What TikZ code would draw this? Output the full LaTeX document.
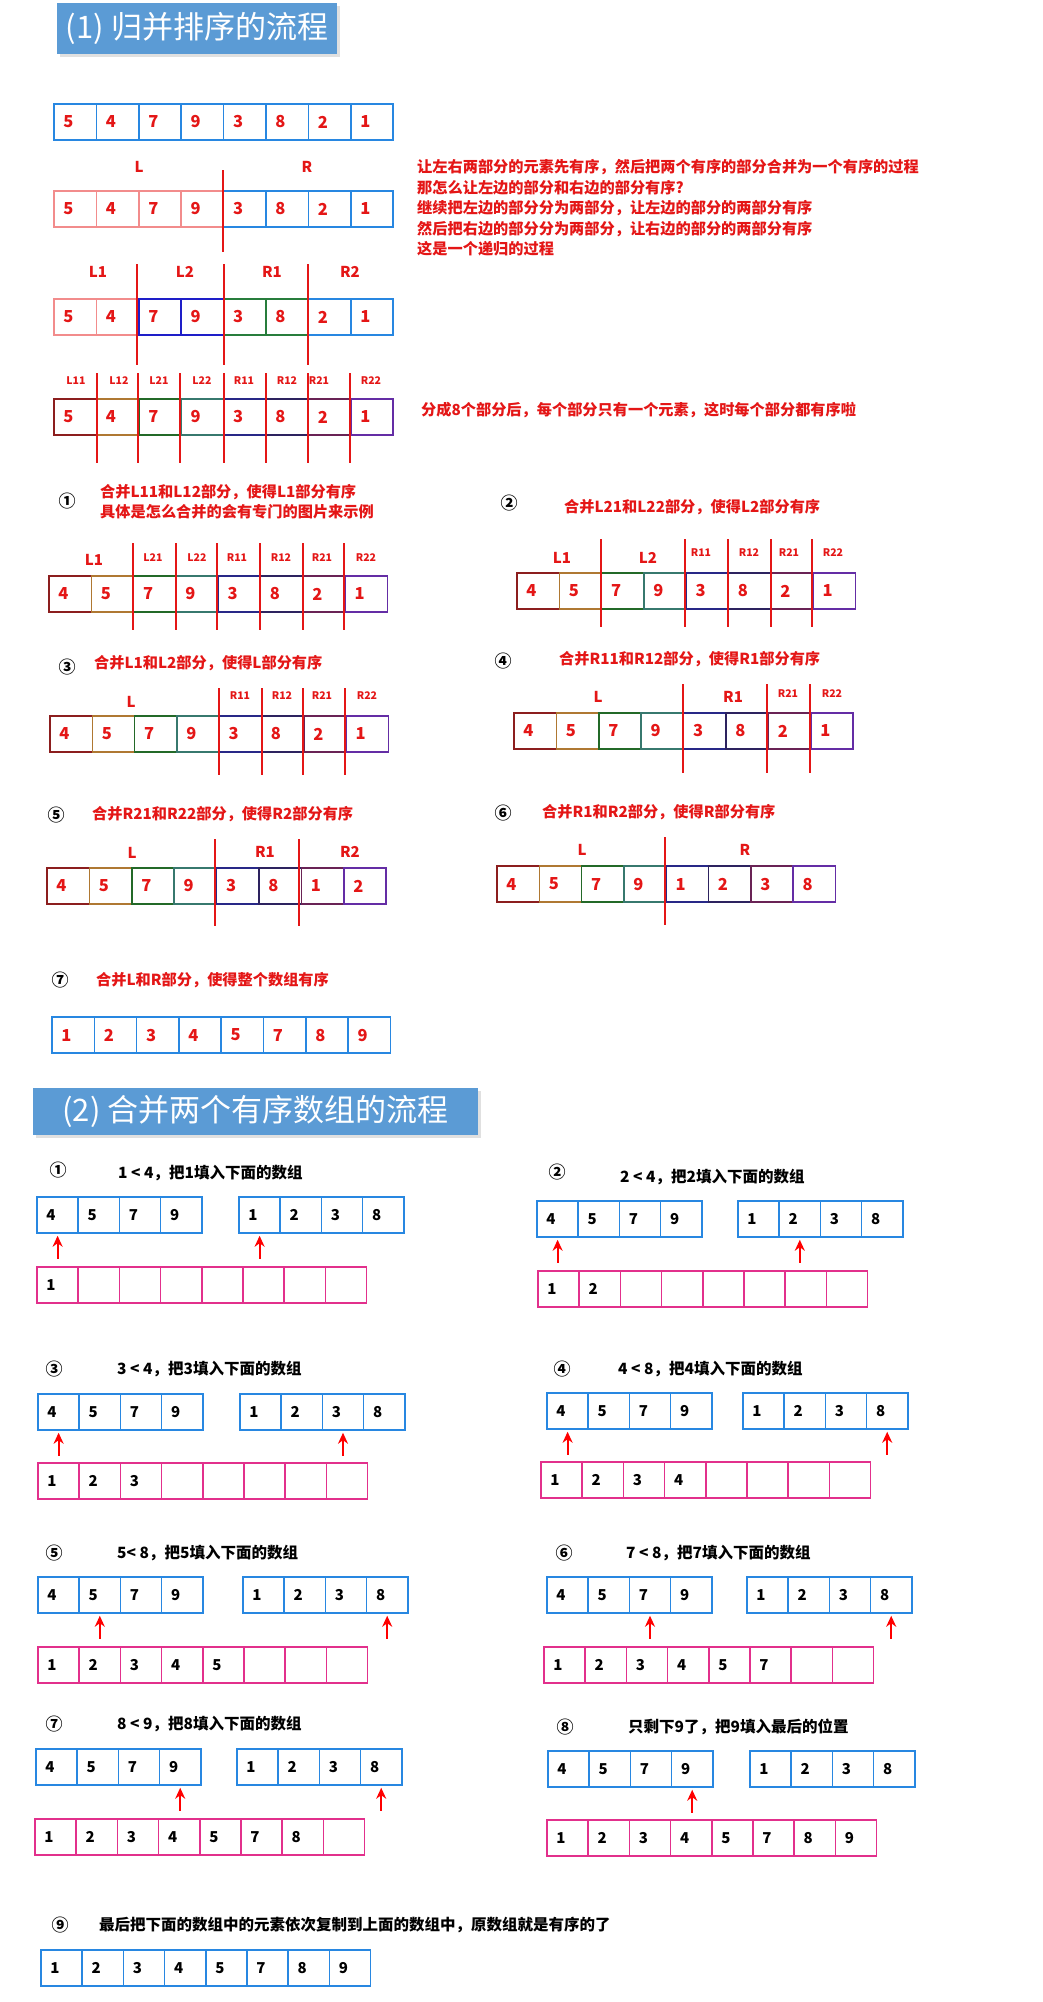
\documentclass[tikz,border=0pt]{standalone}
\usepackage{fontspec}
\setmainfont{Noto Sans CJK SC}
\usetikzlibrary{arrows.meta}
\definecolor{hdblue}{RGB}{91,155,213}
\definecolor{txred}{RGB}{228,22,22}
\definecolor{cblue}{RGB}{40,135,225}
\definecolor{cpink}{RGB}{242,140,140}
\definecolor{cnavy}{RGB}{30,30,200}
\definecolor{cgreen}{RGB}{40,125,60}
\definecolor{cmag}{RGB}{226,48,140}
\definecolor{ga}{RGB}{140,30,30}
\definecolor{gb}{RGB}{175,120,50}
\definecolor{gc}{RGB}{35,105,40}
\definecolor{gd}{RGB}{55,120,110}
\definecolor{ge}{RGB}{40,40,135}
\definecolor{gf}{RGB}{45,35,95}
\definecolor{gg}{RGB}{105,35,85}
\definecolor{gh}{RGB}{100,45,165}
\tikzset{
  cellbox/.style={draw, line width=1.5pt, minimum height=36pt, inner sep=0pt},
  rednum/.style={anchor=west, inner sep=0pt, text=txred, font=\fontsize{16.5}{18}\selectfont\bfseries},
  blacknum/.style={anchor=west, inner sep=0pt, text=black, font=\fontsize{15}{18}\selectfont\bfseries},
  heading/.style={fill=hdblue, text=white, inner sep=0pt, font=\fontsize{31}{36}\selectfont},
  note/.style={anchor=west, inner sep=0pt, text=txred, font=\fontsize{15.2}{20.5}\selectfont\bfseries},
  steptxt/.style={anchor=west, inner sep=0pt, text=black, font=\fontsize{15.5}{20}\selectfont\bfseries},
  circnum/.style={inner sep=0pt, font=\fontsize{17}{18}\selectfont\bfseries},
  partbig/.style={inner sep=0pt, text=txred, font=\fontsize{15}{18}\selectfont\bfseries},
  partsmall/.style={inner sep=0pt, text=txred, font=\fontsize{10.5}{12}\selectfont\bfseries},
  divider/.style={draw=txred, line width=1.5pt},
  ptr/.style={draw=red, line width=2pt, shorten >=2pt, -{Stealth[length=11pt,width=10pt]}},
}
\newcommand{\cellrow}[6]{%
  \foreach \v/\c [count=\i] in {#6} {
    \node[cellbox, draw=\c, minimum width=#4pt] (#1-\i) at ({#2+(\i-0.5)*#4},{#3+18}) {};
    \node[#5] (#1-\i-n) at ([xshift=10pt]#1-\i.west) {\v};
  }%
}
\begin{document}
\begin{tikzpicture}[x=1pt,y=-1pt]
\useasboundingbox (0,0) rectangle (1042,2002);
\fill[white] (0,0) rectangle (1042,2002);

\fill[black!12] (60,6) rectangle (340,57);
\node[heading, minimum width=280pt, minimum height=51pt] (head1) at (197,28.5) {(1) 归并排序的流程};

\cellrow{r0}{54}{104}{42.4}{rednum}{5/cblue,4/cblue,7/cblue,9/cblue,3/cblue,8/cblue,2/cblue,1/cblue}

\node[partbig] (r1L) at (139,167) {L};
\node[partbig] (r1R) at (307,167) {R};
\cellrow{r1}{54}{191}{42.4}{rednum}{5/cpink,4/cpink,7/cpink,9/cpink,3/cblue,8/cblue,2/cblue,1/cblue}
\draw[divider] (223,170) -- (223,252);
\node[note, align=left] (intro) at (417,208) {让左右两部分的元素先有序，然后把两个有序的部分合并为一个有序的过程\\那怎么让左边的部分和右边的部分有序?\\继续把左边的部分分为两部分，让左边的部分的两部分有序\\然后把右边的部分分为两部分，让右边的部分的两部分有序\\这是一个递归的过程};

\node[partbig] (r2L1) at (98,272) {L1};
\node[partbig] (r2L2) at (185,272) {L2};
\node[partbig] (r2R1) at (272,272) {R1};
\node[partbig] (r2R2) at (350,272) {R2};
\cellrow{r2}{54}{299}{42.4}{rednum}{5/cpink,4/cpink,7/cnavy,9/cnavy,3/cgreen,8/cgreen,2/cblue,1/cblue}
\draw[divider] (137,264) -- (137,365);
\draw[divider] (224,264) -- (224,365);
\draw[divider] (308,264) -- (308,365);

\node[partsmall] (r3a) at (76,381) {L11};
\node[partsmall] (r3b) at (119,381) {L12};
\node[partsmall] (r3c) at (159,381) {L21};
\node[partsmall] (r3d) at (202,381) {L22};
\node[partsmall] (r3e) at (244,381) {R11};
\node[partsmall] (r3f) at (287,381) {R12};
\node[partsmall] (r3g) at (319,381) {R21};
\node[partsmall] (r3h) at (371,381) {R22};
\cellrow{r3}{54}{399}{42.4}{rednum}{5/ga,4/gb,7/gc,9/gd,3/ge,8/gf,2/gg,1/gh}
\draw[divider] (97,373) -- (97,463);
\draw[divider] (138,373) -- (138,463);
\draw[divider] (180,373) -- (180,463);
\draw[divider] (224,373) -- (224,463);
\draw[divider] (266,373) -- (266,463);
\draw[divider] (308,373) -- (308,463);
\draw[divider] (350,373) -- (350,463);
\node[note] (r3txt) at (421,410) {分成8个部分后，每个部分只有一个元素，这时每个部分都有序啦};

\node[circnum] (c1) at (67,501) {①};
\node[note] (s1t) at (100,492) {合并L11和L12部分，使得L1部分有序};
\node[note] (s1u) at (100,512) {具体是怎么合并的会有专门的图片来示例};
\node[partbig] (s1L1) at (94,560) {L1};
\node[partsmall] (s1a) at (153,558) {L21};
\node[partsmall] (s1b) at (197,558) {L22};
\node[partsmall] (s1c) at (237,558) {R11};
\node[partsmall] (s1d) at (281,558) {R12};
\node[partsmall] (s1e) at (322,558) {R21};
\node[partsmall] (s1f) at (366,558) {R22};
\cellrow{s1}{49}{576}{42.3}{rednum}{4/ga,5/gb,7/gc,9/gd,3/ge,8/gf,2/gg,1/gh}
\draw[divider] (133,543) -- (133,630);
\draw[divider] (176,543) -- (176,630);
\draw[divider] (217,543) -- (217,630);
\draw[divider] (260,543) -- (260,630);
\draw[divider] (303,543) -- (303,630);
\draw[divider] (344,543) -- (344,630);

\node[circnum] (c2) at (509,503) {②};
\node[note] (s2t) at (564,507) {合并L21和L22部分，使得L2部分有序};
\node[partbig] (s2L1) at (562,558) {L1};
\node[partbig] (s2L2) at (648,558) {L2};
\node[partsmall] (s2a) at (701,553) {R11};
\node[partsmall] (s2b) at (749,553) {R12};
\node[partsmall] (s2c) at (789,553) {R21};
\node[partsmall] (s2d) at (833,553) {R22};
\cellrow{s2}{517}{573}{42.3}{rednum}{4/ga,5/gb,7/gc,9/gd,3/ge,8/gf,2/gg,1/gh}
\draw[divider] (601,539) -- (601,627);
\draw[divider] (685,539) -- (685,627);
\draw[divider] (728,539) -- (728,627);
\draw[divider] (771,539) -- (771,627);
\draw[divider] (812,539) -- (812,627);

\node[circnum] (c3) at (67,667) {③};
\node[note] (s3t) at (94,663) {合并L1和L2部分，使得L部分有序};
\node[partbig] (s3L) at (131,702) {L};
\node[partsmall] (s3a) at (240,696) {R11};
\node[partsmall] (s3b) at (282,696) {R12};
\node[partsmall] (s3c) at (322,696) {R21};
\node[partsmall] (s3d) at (367,696) {R22};
\cellrow{s3}{50}{716}{42.3}{rednum}{4/ga,5/gb,7/gc,9/gd,3/ge,8/gf,2/gg,1/gh}
\draw[divider] (219,688) -- (219,775);
\draw[divider] (262,688) -- (262,775);
\draw[divider] (303,688) -- (303,775);
\draw[divider] (345,688) -- (345,775);

\node[circnum] (c4) at (503,661) {④};
\node[note] (s4t) at (559,659) {合并R11和R12部分，使得R1部分有序};
\node[partbig] (s4L) at (598,697) {L};
\node[partbig] (s4R1) at (733,697) {R1};
\node[partsmall] (s4a) at (788,694) {R21};
\node[partsmall] (s4b) at (832,694) {R22};
\cellrow{s4}{514}{713}{42.4}{rednum}{4/ga,5/gb,7/gc,9/gd,3/ge,8/gf,2/gg,1/gh}
\draw[divider] (683,684) -- (683,773);
\draw[divider] (767,684) -- (767,773);
\draw[divider] (810,684) -- (810,773);

\node[circnum] (c5) at (56,815) {⑤};
\node[note] (s5t) at (92,814) {合并R21和R22部分，使得R2部分有序};
\node[partbig] (s5L) at (132,853) {L};
\node[partbig] (s5R1) at (265,852) {R1};
\node[partbig] (s5R2) at (350,852) {R2};
\cellrow{s5}{47}{868}{42.4}{rednum}{4/ga,5/gb,7/gc,9/gd,3/ge,8/gf,1/gg,2/gh}
\draw[divider] (215,839) -- (215,926);
\draw[divider] (299,839) -- (299,926);

\node[circnum] (c6) at (503,813) {⑥};
\node[note] (s6t) at (542,812) {合并R1和R2部分，使得R部分有序};
\node[partbig] (s6L) at (582,850) {L};
\node[partbig] (s6R) at (745,850) {R};
\cellrow{s6}{497}{866}{42.3}{rednum}{4/ga,5/gb,7/gc,9/gd,1/ge,2/gf,3/gg,8/gh}
\draw[divider] (665,837) -- (665,925);

\node[circnum] (c7) at (60,980) {⑦};
\node[note] (s7t) at (96,980) {合并L和R部分，使得整个数组有序};
\cellrow{s7}{52}{1017}{42.3}{rednum}{1/cblue,2/cblue,3/cblue,4/cblue,5/cblue,7/cblue,8/cblue,9/cblue}

\fill[black!12] (36,1091) rectangle (481,1138);
\node[heading, minimum width=445pt, minimum height=47pt] (head2) at (255.5,1111.5) {(2) 合并两个有序数组的流程};

\node[circnum] (d1) at (58,1170) {①};
\node[steptxt] (m1t) at (118,1173) {1 < 4，把1填入下面的数组};
\cellrow{m1a}{37}{1197}{41.2}{blacknum}{4/cblue,5/cblue,7/cblue,9/cblue}
\cellrow{m1b}{239}{1197}{41.2}{blacknum}{1/cblue,2/cblue,3/cblue,8/cblue}
\cellrow{m1c}{37}{1267}{41.2}{blacknum}{1/cmag,{}/cmag,{}/cmag,{}/cmag,{}/cmag,{}/cmag,{}/cmag,{}/cmag}
\coordinate (m1p) at ([yshift=-25pt]m1a-1.south);
\coordinate (m1q) at ([yshift=-25pt]m1b-1.south);
\draw[ptr] (m1p) -- (m1a-1);
\draw[ptr] (m1q) -- (m1b-1);

\node[circnum] (d2) at (557,1172) {②};
\node[steptxt] (m2t) at (620,1177) {2 < 4，把2填入下面的数组};
\cellrow{m2a}{537}{1201}{41.2}{blacknum}{4/cblue,5/cblue,7/cblue,9/cblue}
\cellrow{m2b}{738}{1201}{41.2}{blacknum}{1/cblue,2/cblue,3/cblue,8/cblue}
\cellrow{m2c}{538}{1271}{41.2}{blacknum}{1/cmag,2/cmag,{}/cmag,{}/cmag,{}/cmag,{}/cmag,{}/cmag,{}/cmag}
\coordinate (m2p) at ([yshift=-25pt]m2a-1.south);
\coordinate (m2q) at ([yshift=-25pt]m2b-2.south);
\draw[ptr] (m2p) -- (m2a-1);
\draw[ptr] (m2q) -- (m2b-2);

\node[circnum] (d3) at (54,1369) {③};
\node[steptxt] (m3t) at (117,1369) {3 < 4，把3填入下面的数组};
\cellrow{m3a}{38}{1394}{41.2}{blacknum}{4/cblue,5/cblue,7/cblue,9/cblue}
\cellrow{m3b}{240}{1394}{41.2}{blacknum}{1/cblue,2/cblue,3/cblue,8/cblue}
\cellrow{m3c}{38}{1463}{41.2}{blacknum}{1/cmag,2/cmag,3/cmag,{}/cmag,{}/cmag,{}/cmag,{}/cmag,{}/cmag}
\coordinate (m3p) at ([yshift=-25pt]m3a-1.south);
\coordinate (m3q) at ([yshift=-25pt]m3b-3.south);
\draw[ptr] (m3p) -- (m3a-1);
\draw[ptr] (m3q) -- (m3b-3);

\node[circnum] (d4) at (562,1369) {④};
\node[steptxt] (m4t) at (618,1369) {4 < 8，把4填入下面的数组};
\cellrow{m4a}{547}{1393}{41.2}{blacknum}{4/cblue,5/cblue,7/cblue,9/cblue}
\cellrow{m4b}{743}{1393}{41.2}{blacknum}{1/cblue,2/cblue,3/cblue,8/cblue}
\cellrow{m4c}{541}{1462}{41.2}{blacknum}{1/cmag,2/cmag,3/cmag,4/cmag,{}/cmag,{}/cmag,{}/cmag,{}/cmag}
\coordinate (m4p) at ([yshift=-25pt]m4a-1.south);
\coordinate (m4q) at ([yshift=-25pt]m4b-4.south);
\draw[ptr] (m4p) -- (m4a-1);
\draw[ptr] (m4q) -- (m4b-4);

\node[circnum] (d5) at (54,1553) {⑤};
\node[steptxt] (m5t) at (117,1553) {5< 8，把5填入下面的数组};
\cellrow{m5a}{38}{1577}{41.2}{blacknum}{4/cblue,5/cblue,7/cblue,9/cblue}
\cellrow{m5b}{243}{1577}{41.2}{blacknum}{1/cblue,2/cblue,3/cblue,8/cblue}
\cellrow{m5c}{38}{1647}{41.2}{blacknum}{1/cmag,2/cmag,3/cmag,4/cmag,5/cmag,{}/cmag,{}/cmag,{}/cmag}
\coordinate (m5p) at ([yshift=-25pt]m5a-2.south);
\coordinate (m5q) at ([yshift=-25pt]m5b-4.south);
\draw[ptr] (m5p) -- (m5a-2);
\draw[ptr] (m5q) -- (m5b-4);

\node[circnum] (d6) at (564,1553) {⑥};
\node[steptxt] (m6t) at (626,1553) {7 < 8，把7填入下面的数组};
\cellrow{m6a}{547}{1577}{41.2}{blacknum}{4/cblue,5/cblue,7/cblue,9/cblue}
\cellrow{m6b}{747}{1577}{41.2}{blacknum}{1/cblue,2/cblue,3/cblue,8/cblue}
\cellrow{m6c}{544}{1647}{41.2}{blacknum}{1/cmag,2/cmag,3/cmag,4/cmag,5/cmag,7/cmag,{}/cmag,{}/cmag}
\coordinate (m6p) at ([yshift=-25pt]m6a-3.south);
\coordinate (m6q) at ([yshift=-25pt]m6b-4.south);
\draw[ptr] (m6p) -- (m6a-3);
\draw[ptr] (m6q) -- (m6b-4);

\node[circnum] (d7) at (54,1724) {⑦};
\node[steptxt] (m7t) at (117,1724) {8 < 9，把8填入下面的数组};
\cellrow{m7a}{36}{1749}{41.2}{blacknum}{4/cblue,5/cblue,7/cblue,9/cblue}
\cellrow{m7b}{237}{1749}{41.2}{blacknum}{1/cblue,2/cblue,3/cblue,8/cblue}
\cellrow{m7c}{35}{1819}{41.2}{blacknum}{1/cmag,2/cmag,3/cmag,4/cmag,5/cmag,7/cmag,8/cmag,{}/cmag}
\coordinate (m7p) at ([yshift=-25pt]m7a-4.south);
\coordinate (m7q) at ([yshift=-25pt]m7b-4.south);
\draw[ptr] (m7p) -- (m7a-4);
\draw[ptr] (m7q) -- (m7b-4);

\node[circnum] (d8) at (565,1727) {⑧};
\node[steptxt] (m8t) at (628,1727) {只剩下9了，把9填入最后的位置};
\cellrow{m8a}{548}{1751}{41.2}{blacknum}{4/cblue,5/cblue,7/cblue,9/cblue}
\cellrow{m8b}{750}{1751}{41.2}{blacknum}{1/cblue,2/cblue,3/cblue,8/cblue}
\cellrow{m8c}{547}{1820}{41.2}{blacknum}{1/cmag,2/cmag,3/cmag,4/cmag,5/cmag,7/cmag,8/cmag,9/cmag}
\coordinate (m8p) at ([yshift=-25pt]m8a-4.south);
\draw[ptr] (m8p) -- (m8a-4);

\node[circnum] (d9) at (60,1925) {⑨};
\node[steptxt] (m9t) at (99,1925) {最后把下面的数组中的元素依次复制到上面的数组中，原数组就是有序的了};
\cellrow{m9}{41}{1950}{41.2}{blacknum}{1/cblue,2/cblue,3/cblue,4/cblue,5/cblue,7/cblue,8/cblue,9/cblue}
\end{tikzpicture}
\end{document}
